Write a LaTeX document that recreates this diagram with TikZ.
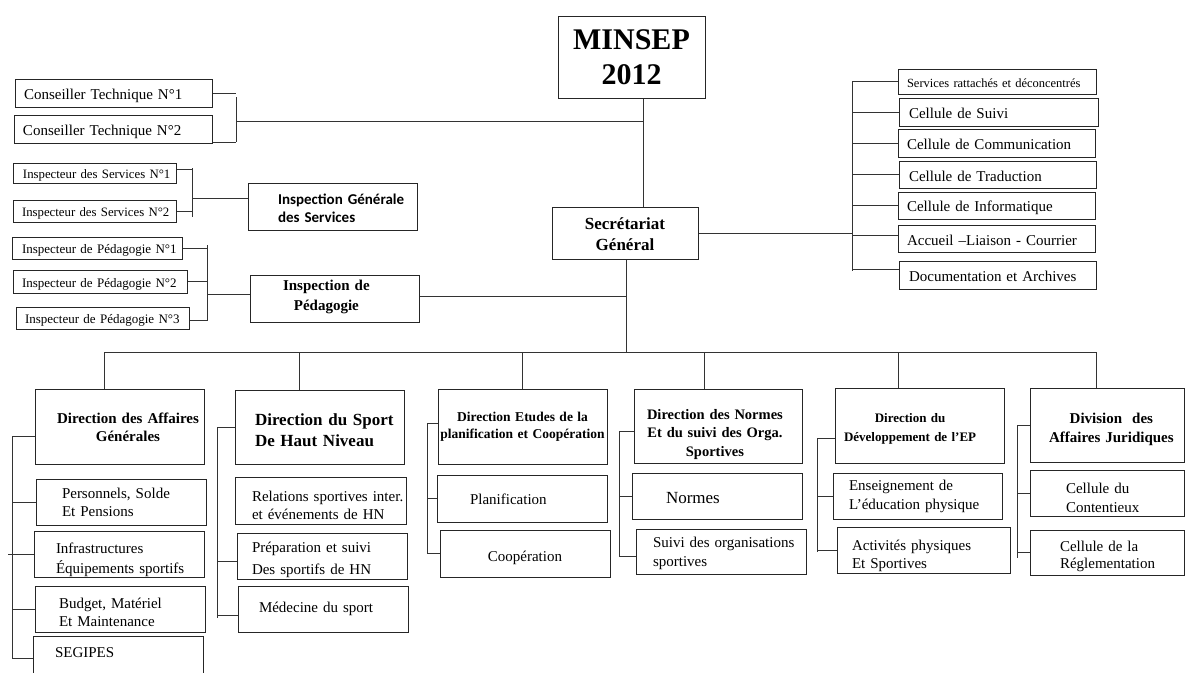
\documentclass[tikz,border=0pt]{standalone}
\usepackage{fontspec}
\setmainfont{Liberation Serif}
\newfontfamily\calib{Carlito}
\def\tsh{-2.5pt}
\newcommand\TL[1]{\noindent\raisebox{\tsh}[\height][\depth]{\begin{tabular}{@{}l@{}}#1\end{tabular}}}
\newcommand\TC[1]{\noindent\raisebox{\tsh}[\height][\depth]{\begin{tabular}{@{}c@{}}#1\end{tabular}}}
\newcommand\mkbox[8][]{%
  \pgfmathsetmacro\bxcx{(#3+#5)/2}%
  \pgfmathsetmacro\bxcy{(#4+#6)/2}%
  \pgfmathsetmacro\bxww{#5-#3}%
  \pgfmathsetmacro\bxhh{#6-#4}%
  \pgfmathsetmacro\bxtw{#5-#3-2*#7}%
  \node[box,inner xsep=#7pt,text width=\bxtw pt,minimum width=\bxww pt,minimum height=\bxhh pt,#1] (#2) at (\bxcx,\bxcy) {#8};}
\tikzset{
  box/.style={draw=black!85, line width=1pt, inner ysep=0pt, align=left, font=\fontsize{15}{18}\selectfont},
  ln/.style={draw=black!80, line width=0.9pt},
  tsh/.code={\def\tsh{#1}},
}
\begin{document}
\begin{tikzpicture}[x=1pt,y=-1pt]
\useasboundingbox (0,0) rectangle (1186,672);

% top
\mkbox[align=center,font=\bfseries\fontsize{30}{35}\selectfont]{MIN}{558}{16}{705}{98}{2}{\TC{MINSEP\\2012}}
\mkbox{CT1}{15}{79}{212}{107}{9}{\TL{Conseiller Technique N°1}}
\mkbox{CT2}{14}{115}{212}{143}{9}{\TL{Conseiller Technique N°2}}
\mkbox[font=\fontsize{12.8}{15}\selectfont]{IS1}{13}{163}{176}{183}{10}{\TL{Inspecteur des Services N°1}}
\mkbox[font=\fontsize{12.8}{15}\selectfont]{IS2}{13}{200}{176}{222}{9}{\TL{Inspecteur des Services N°2}}
\mkbox[tsh=-3pt,font=\calib\bfseries\fontsize{15}{18}\selectfont]{IGS}{248}{183}{417}{230}{30}{\TL{Inspection Générale\\des Services}}
\mkbox[font=\fontsize{13}{15}\selectfont]{IP1}{12}{237}{182}{259}{10}{\TL{Inspecteur de Pédagogie N°1}}
\mkbox[font=\fontsize{13}{15}\selectfont]{IP2}{13}{270}{187}{293}{9}{\TL{Inspecteur de Pédagogie N°2}}
\mkbox[font=\fontsize{13}{15}\selectfont]{IP3}{16}{307}{189}{329}{9}{\TL{Inspecteur de Pédagogie N°3}}
\mkbox[tsh=2pt,font=\bfseries\fontsize{15}{20}\selectfont]{IPd}{250}{275}{419}{322}{33}{\TC{Inspection de\\Pédagogie}}
\mkbox[tsh=-3pt,align=center,font=\bfseries\fontsize{17}{21}\selectfont]{SG}{552}{207}{698}{259}{4}{\TC{Secrétariat\\Général}}

% right column
\mkbox[tsh=-3pt,font=\fontsize{12.5}{15}\selectfont]{R1}{898}{69}{1096}{94}{9}{\TL{Services rattachés et déconcentrés}}
\mkbox[tsh=-3pt]{R2}{899}{98}{1098}{126}{10}{\TL{Cellule de Suivi}}
\mkbox[tsh=-3pt]{R3}{898}{129}{1095}{157}{9}{\TL{Cellule de Communication}}
\mkbox[tsh=-3pt]{R4}{899}{161}{1096}{188}{10}{\TL{Cellule de Traduction}}
\mkbox{R5}{898}{192}{1095}{219}{9}{\TL{Cellule de Informatique}}
\mkbox[tsh=-3pt]{R6}{898}{225}{1095}{252}{9}{\TL{Accueil –Liaison - Courrier}}
\mkbox[tsh=-3pt]{R7}{899}{261}{1096}{289}{10}{\TL{Documentation et Archives}}

% directions
\mkbox[tsh=-2pt,font=\bfseries\fontsize{15}{18}\selectfont]{DAG}{35}{389}{204}{464}{22}{\TC{Direction des Affaires\\Générales}}
\mkbox[tsh=-5pt,font=\bfseries\fontsize{17}{21}\selectfont]{DSHN}{235}{390}{404}{464}{20}{\TL{Direction du Sport\\De Haut Niveau}}
\mkbox[tsh=0pt,align=center,font=\bfseries\fontsize{13.5}{17}\selectfont]{DEPC}{438}{389}{607}{464}{1}{\TC{Direction Etudes de la\\planification et Coopération}}
\mkbox[tsh=-8pt,font=\bfseries\fontsize{14.5}{18.5}\selectfont]{DNS}{634}{389}{802}{463}{13}{\TC{Direction des Normes\\Et du suivi des Orga.\\Sportives}}
\mkbox[tsh=-3pt,font=\bfseries\fontsize{13}{19}\selectfont]{DDEP}{835}{388}{1004}{463}{9}{\TC{Direction du\\Développement de l’EP}}
\mkbox[tsh=-4pt,font=\bfseries\fontsize{15}{19}\selectfont]{DAJ}{1030}{388}{1184}{462}{19}{\TC{Division\ \ des\\Affaires Juridiques}}

% sub boxes
\mkbox[tsh=-2pt]{PS}{36}{479}{206}{525}{26}{\TL{Personnels, Solde\\Et Pensions}}
\mkbox[tsh=-5pt,font=\fontsize{15}{20}\selectfont]{INF}{34}{531}{204}{577}{22}{\TL{Infrastructures\\Équipements sportifs}}
\mkbox[tsh=-5pt]{BUD}{35}{586}{205}{632}{24}{\TL{Budget, Matériel\\Et Maintenance}}
\mkbox[tsh=2pt]{SEG}{33}{636}{203}{675}{22}{\TL{SEGIPES}}
\mkbox[tsh=-6pt]{REL}{235}{477}{406}{524}{17}{\TL{Relations sportives inter.\\et événements de HN}}
\mkbox[tsh=-3pt,font=\fontsize{15}{22}\selectfont]{PRE}{237}{533}{407}{579}{15}{\TL{Préparation et suivi\\Des sportifs de HN}}
\mkbox[tsh=0pt]{MED}{238}{586}{408}{632}{21}{\TL{Médecine du sport}}
\mkbox[tsh=-2pt]{PLA}{437}{475}{607}{522}{33}{\TL{Planification}}
\mkbox[tsh=-4pt,align=center]{COO}{440}{530}{610}{577}{2}{\TC{Coopération}}
\mkbox[tsh=-3pt,font=\fontsize{17}{20}\selectfont]{NOR}{632}{473}{802}{519}{34}{\TL{Normes}}
\mkbox[tsh=-2pt,font=\fontsize{15}{19}\selectfont]{SUI}{636}{529}{806}{574}{17}{\TL{Suivi des organisations\\sportives}}
\mkbox[tsh=0pt,font=\fontsize{15}{19}\selectfont]{ENS}{833}{473}{1002}{519}{16}{\TL{Enseignement de\\L’éducation physique}}
\mkbox[tsh=-6pt]{ACT}{837}{527}{1010}{573}{15}{\TL{Activités physiques\\Et Sportives}}
\mkbox[tsh=-6pt,font=\fontsize{15}{19}\selectfont]{CON}{1030}{470}{1184}{516}{36}{\TL{Cellule du\\Contentieux}}
\mkbox[tsh=-4pt,font=\fontsize{15}{17}\selectfont]{REG}{1030}{530}{1184}{575}{30}{\TL{Cellule de la\\Réglementation}}

% spine coordinates
\coordinate (mx) at (643,0);
\coordinate (ctx) at (236,0);
\coordinate (cty) at (0,121);
\coordinate (isx) at (192,0);
\coordinate (ipx) at (207,0);
\coordinate (sgx) at (626,0);
\coordinate (rx) at (852,0);
\coordinate (ax) at (12,0);
\coordinate (bx) at (217,0);
\coordinate (ex) at (427,0);
\coordinate (fx) at (619,0);
\coordinate (gx) at (817,0);
\coordinate (jx) at (1017,0);
\coordinate (d1) at (104,352);
\coordinate (d2) at (299,352);
\coordinate (d3) at (522,352);
\coordinate (d4) at (704,352);
\coordinate (d5) at (898,352);
\coordinate (d6) at (1096,352);

% MINSEP -> SG
\draw[ln] (MIN.south -| mx) -- (SG.north -| mx);
% conseillers
\draw[ln] (CT1.east) -- (CT1.east -| ctx);
\draw[ln] ([yshift=-13pt]CT2.east) -- ([yshift=-13pt]CT2.east -| ctx);
\draw[ln] ([yshift=-4pt]CT1.east -| ctx) -- ([yshift=-13pt]CT2.east -| ctx);
\draw[ln] (ctx |- cty) -- (mx |- cty);
% inspection generale
\draw[ln] ([yshift=4pt]IS1.east) -- ([yshift=4pt]IS1.east -| isx);
\draw[ln] (IS2.east) -- (IS2.east -| isx);
\draw[ln] ([yshift=5pt]IS1.east -| isx) -- ([yshift=-6pt]IS2.east -| isx);
\draw[ln] ([yshift=8.5pt]IGS.west -| isx) -- ([yshift=8.5pt]IGS.west);
% inspection pedagogie
\draw[ln] (IP1.east) -- (IP1.east -| ipx);
\draw[ln] (IP2.east) -- (IP2.east -| ipx);
\draw[ln] ([yshift=-2pt]IP3.east) -- ([yshift=-2pt]IP3.east -| ipx);
\draw[ln] ([yshift=3pt]IP1.east -| ipx) -- ([yshift=-3pt]IP3.east -| ipx);
\draw[ln] ([yshift=4.5pt]IPd.west -| ipx) -- ([yshift=4.5pt]IPd.west);
\draw[ln] ([yshift=2.5pt]IPd.east) -- ([yshift=2.5pt]IPd.east -| sgx);
% SG down and directions
\draw[ln] (SG.south -| sgx) -- (sgx |- d1);
\draw[ln] (d1) -- (d6);
\draw[ln] (d1) -- (d1 |- DAG.north);
\draw[ln] (d2) -- (d2 |- DSHN.north);
\draw[ln] (d3) -- (d3 |- DEPC.north);
\draw[ln] (d4) -- (d4 |- DNS.north);
\draw[ln] (d5) -- (d5 |- DDEP.north);
\draw[ln] (d6) -- (d6 |- DAJ.north);
% SG right column
\draw[ln] (SG.east) -- (SG.east -| rx);
\draw[ln] (R1.west -| rx) -- ([yshift=4pt]R7.west -| rx);
\foreach \r in {R1,R2,R3,R4,R5} {\draw[ln] (\r.west -| rx) -- (\r.west);}
\draw[ln] ([yshift=3.5pt]R6.west -| rx) -- ([yshift=3.5pt]R6.west);
\draw[ln] ([yshift=6pt]R7.west -| rx) -- ([yshift=6pt]R7.west);
% DAG bracket
\draw[ln] ([yshift=-9.5pt]DAG.west -| ax) -- ([yshift=-9.5pt]DAG.west);
\draw[ln] (PS.west -| ax) -- (PS.west);
\draw[ln] ([xshift=-4pt]INF.west -| ax) -- (INF.west);
\draw[ln] (BUD.west -| ax) -- (BUD.west);
\draw[ln] ([yshift=-2.5pt]SEG.west -| ax) -- ([yshift=-2.5pt]SEG.west);
\draw[ln] ([yshift=-9.5pt]DAG.west -| ax) -- ([yshift=-2.5pt]SEG.west -| ax);
% DSHN bracket
\draw[ln] (DSHN.west -| bx) -- (DSHN.west);
\draw[ln] ([yshift=-5pt]PRE.west -| bx) -- ([yshift=-5pt]PRE.west);
\draw[ln] ([yshift=-6pt]MED.west -| bx) -- ([yshift=-6pt]MED.west);
\draw[ln] (DSHN.west -| bx) -- ([yshift=-9pt]MED.west -| bx);
% DEPC bracket
\draw[ln] ([yshift=3.5pt]DEPC.west -| ex) -- ([yshift=3.5pt]DEPC.west);
\draw[ln] (PLA.west -| ex) -- (PLA.west);
\draw[ln] (COO.west -| ex) -- (COO.west);
\draw[ln] ([yshift=3.5pt]DEPC.west -| ex) -- (COO.west -| ex);
% DNS bracket
\draw[ln] ([yshift=-5pt]DNS.west -| fx) -- ([yshift=-5pt]DNS.west);
\draw[ln] (NOR.west -| fx) -- (NOR.west);
\draw[ln] ([yshift=-4.5pt]SUI.west -| fx) -- ([yshift=-4.5pt]SUI.west);
\draw[ln] ([yshift=-5pt]DNS.west -| fx) -- ([yshift=-5.5pt]SUI.west -| fx);
% DDEP bracket
\draw[ln] ([yshift=-12.5pt]DDEP.west -| gx) -- ([yshift=-12.5pt]DDEP.west);
\draw[ln] (ENS.west -| gx) -- (ENS.west);
\draw[ln] (ACT.west -| gx) -- (ACT.west);
\draw[ln] ([yshift=-12.5pt]DDEP.west -| gx) -- ([yshift=-1.5pt]ACT.west -| gx);
% DAJ bracket
\draw[ln] (DAJ.west -| jx) -- (DAJ.west);
\draw[ln] (CON.west -| jx) -- (CON.west);
\draw[ln] (REG.west -| jx) -- (REG.west);
\draw[ln] (DAJ.west -| jx) -- ([yshift=-5pt]REG.west -| jx);
\end{tikzpicture}
\end{document}
